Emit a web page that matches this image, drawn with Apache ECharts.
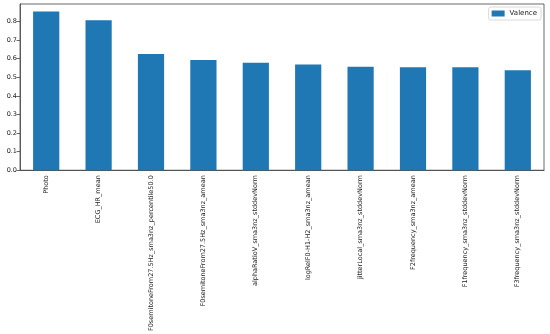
<!DOCTYPE html>
<html><head><meta charset="utf-8">
<script src="https://cdn.jsdelivr.net/npm/echarts@6/dist/echarts.min.js"></script>
<style>html,body{margin:0;padding:0;background:#fff}#c{width:550px;height:334px}</style>
</head><body><div id="c"></div>
<script>
const categories = ["Photo","ECG_HR_mean","F0semitoneFrom27.5Hz_sma3nz_percentile50.0","F0semitoneFrom27.5Hz_sma3nz_amean","alphaRatioV_sma3nz_stddevNorm","logRelF0-H1-H2_sma3nz_amean","jitterLocal_sma3nz_stddevNorm","F2frequency_sma3nz_amean","F1frequency_sma3nz_stddevNorm","F3frequency_sma3nz_stddevNorm"];
const valence = [0.853,0.807,0.625,0.593,0.578,0.568,0.556,0.554,0.554,0.538];
const seriesName = "Valence";
const chart = echarts.init(document.getElementById('c'));
const font = 'DejaVu Sans';
chart.setOption({
  animation:false,
  grid:{left:20,right:6,top:4,bottom:159.5,show:true,borderColor:'#444',borderWidth:0.8,backgroundColor:'#fff'},
  legend:{data:[seriesName],right:9,top:7,itemWidth:13,itemHeight:6,itemGap:4,padding:[3,4,3,3],
    backgroundColor:'#fff',borderColor:'#d0d0d0',borderWidth:0.8,borderRadius:2,
    textStyle:{fontFamily:font,fontSize:7,color:'#222'},icon:'rect'},
  xAxis:{type:'category',data:categories,
    axisLine:{lineStyle:{color:'#444',width:0.8}},
    axisTick:{alignWithLabel:true,length:3.5,lineStyle:{color:'#444',width:0.8}},
    axisLabel:{rotate:90,interval:0,fontFamily:font,fontSize:6.5,color:'#222',margin:5}},
  yAxis:{type:'value',min:0,max:0.894,interval:0.1,
    axisLine:{show:true,lineStyle:{color:'#444',width:0.8}},
    axisTick:{show:true,length:3.5,lineStyle:{color:'#444',width:0.8}},
    splitLine:{show:false},
    axisLabel:{fontFamily:font,fontSize:6.5,color:'#222',margin:3,
      formatter:v=>(Math.abs(v-Math.round(v*10)/10)<1e-6)?v.toFixed(1):'',
      showMaxLabel:false}},
  series:[{name:seriesName,type:'bar',data:valence,barWidth:'50%',itemStyle:{color:'#1f77b4'}}]
});
</script></body></html>
